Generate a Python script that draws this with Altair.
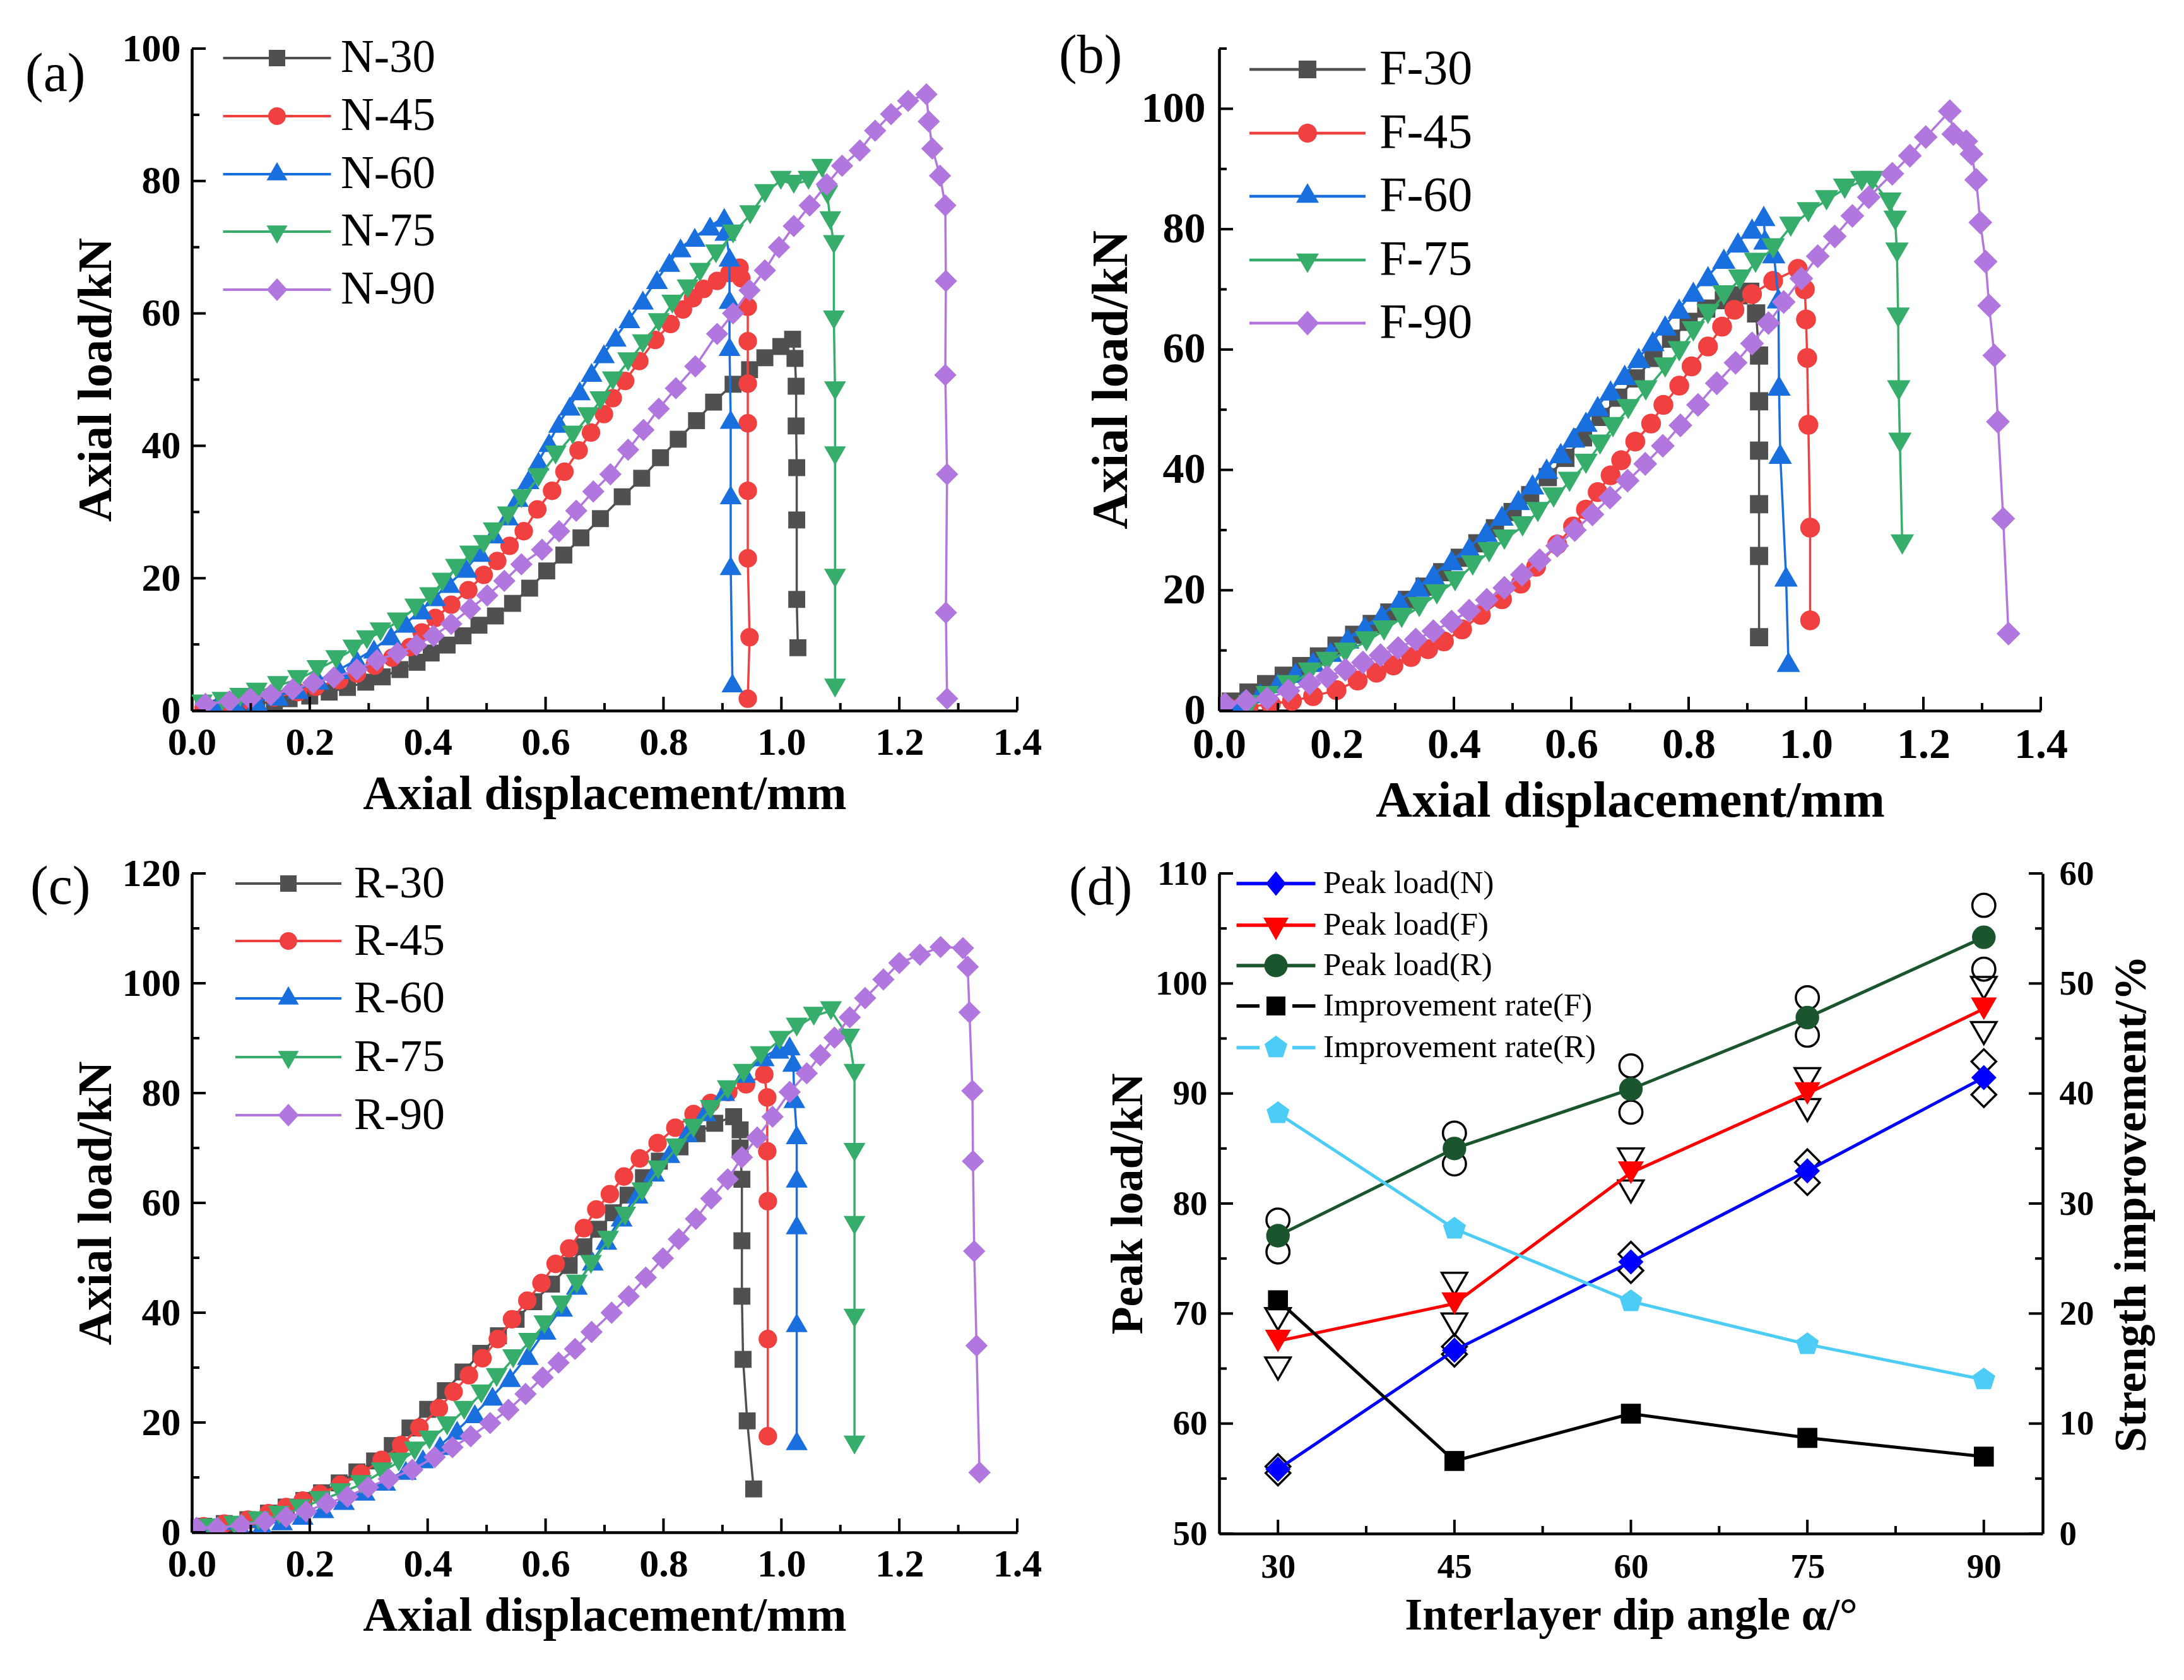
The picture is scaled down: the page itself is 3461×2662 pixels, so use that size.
import math
import altair as alt
import pandas as pd

FONT = "Liberation Serif"

# ---------------- shared styling for panels (a)-(c) ----------------
ANGLE_TAGS = ["30", "45", "60", "75", "90"]
CURVE_COLORS = ["#505050", "#F14040", "#1A6FDF", "#37AD6B", "#B177DE"]
CURVE_SHAPES = ["square", "circle", "triangle-up", "triangle-down", "diamond"]

X_MAJOR = [0.0, 0.2, 0.4, 0.6, 0.8, 1.0, 1.2, 1.4]
X_MINOR = [0.1, 0.3, 0.5, 0.7, 0.9, 1.1, 1.3]

# ---------------- panel (a): N specimens ----------------
N30_X = [0.02, 0.05, 0.08, 0.11, 0.14, 0.165, 0.2, 0.233, 0.264, 0.295, 0.323, 0.353, 0.382, 0.406,
         0.433, 0.46, 0.487, 0.515, 0.544, 0.573, 0.602, 0.631, 0.66, 0.693, 0.73, 0.763, 0.795, 0.825,
         0.856, 0.885, 0.918, 0.946, 0.972, 0.999, 1.019, 1.023, 1.025, 1.025, 1.026, 1.026, 1.026, 1.028]
N30_Y = [0.3, 0.4, 0.6, 1.0, 1.4, 1.8, 2.2, 2.8, 3.5, 4.3, 5.1, 6.2, 7.3, 8.7, 9.9, 11.3, 12.9, 14.3,
         16.2, 18.5, 21.1, 23.5, 26.1, 29.0, 32.3, 35.1, 38.2, 41.0, 43.8, 46.6, 49.3, 51.5, 53.3, 55.0,
         56.1, 53.2, 49.0, 43.0, 36.7, 28.8, 16.8, 9.5]
N45_X = [0.02, 0.06, 0.1, 0.14, 0.18, 0.21, 0.25, 0.28, 0.31, 0.34, 0.37, 0.39, 0.413, 0.44, 0.469,
         0.495, 0.518, 0.539, 0.563, 0.586, 0.611, 0.632, 0.656, 0.677, 0.699, 0.714, 0.735, 0.759,
         0.786, 0.812, 0.833, 0.85, 0.868, 0.891, 0.912, 0.929, 0.932, 0.943, 0.943, 0.943, 0.943,
         0.943, 0.943, 0.946, 0.943]
N45_Y = [0.4, 0.8, 1.4, 2.0, 2.8, 3.6, 4.6, 5.6, 6.8, 8.0, 9.6, 11.8, 14.0, 16.0, 18.2, 20.5, 22.6,
         24.9, 27.1, 30.4, 33.2, 36.1, 39.3, 42.0, 44.8, 47.2, 49.8, 52.8, 56.0, 58.4, 60.6, 62.3,
         63.7, 64.9, 66.1, 66.9, 65.3, 61.0, 55.8, 49.4, 43.4, 33.2, 23.0, 11.1, 1.8]
N60_X = [0.04, 0.076, 0.11, 0.146, 0.18, 0.215, 0.25, 0.28, 0.309, 0.338, 0.363, 0.39, 0.413, 0.437,
         0.466, 0.489, 0.512, 0.536, 0.553, 0.571, 0.588, 0.606, 0.623, 0.641, 0.658, 0.678, 0.699,
         0.719, 0.742, 0.765, 0.789, 0.81, 0.829, 0.853, 0.879, 0.903, 0.905, 0.912, 0.912, 0.912,
         0.914, 0.914, 0.914, 0.917]
N60_Y = [0.5, 0.8, 1.4, 2.2, 3.2, 4.6, 6.2, 7.7, 9.3, 11.3, 13.2, 15.2, 17.2, 19.2, 21.5, 23.9, 26.7,
         29.4, 32.2, 34.9, 37.7, 40.5, 43.4, 46.0, 48.3, 51.1, 53.9, 56.4, 59.2, 62.0, 65.1, 67.7,
         69.9, 71.5, 73.2, 74.5, 72.4, 68.5, 62.1, 55.0, 44.0, 32.6, 21.9, 4.2]
N75_X = [0.017, 0.052, 0.082, 0.11, 0.146, 0.18, 0.213, 0.245, 0.274, 0.297, 0.32, 0.349, 0.379,
         0.404, 0.425, 0.448, 0.472, 0.495, 0.512, 0.536, 0.559, 0.588, 0.617, 0.646, 0.672, 0.693,
         0.714, 0.74, 0.765, 0.792, 0.815, 0.841, 0.862, 0.889, 0.918, 0.947, 0.972, 0.999, 1.021,
         1.046, 1.069, 1.078, 1.083, 1.089, 1.089, 1.091, 1.091, 1.091, 1.091]
N75_Y = [1.0, 1.4, 2.0, 2.8, 3.8, 4.7, 6.2, 7.7, 9.3, 10.7, 11.9, 13.4, 15.5, 17.2, 19.4, 21.5, 23.5,
         25.1, 27.0, 29.4, 32.0, 35.2, 38.6, 41.6, 44.4, 46.8, 49.8, 52.7, 55.4, 58.6, 61.4, 63.7,
         66.2, 69.0, 72.0, 74.9, 78.1, 80.1, 79.5, 80.1, 81.9, 77.9, 74.0, 70.4, 59.0, 48.3, 38.5,
         20.0, 3.4]
N90_X = [0.023, 0.064, 0.099, 0.134, 0.171, 0.206, 0.241, 0.28, 0.314, 0.349, 0.381, 0.41, 0.44,
         0.472, 0.501, 0.53, 0.559, 0.594, 0.623, 0.652, 0.681, 0.71, 0.74, 0.766, 0.792, 0.821,
         0.854, 0.891, 0.918, 0.946, 0.972, 0.996, 1.021, 1.048, 1.077, 1.103, 1.133, 1.159, 1.186,
         1.215, 1.246, 1.25, 1.256, 1.269, 1.278, 1.279, 1.278, 1.281, 1.279, 1.281]
N90_Y = [1.0, 1.4, 1.8, 2.4, 3.2, 4.2, 5.0, 6.2, 7.6, 8.7, 9.9, 11.3, 13.1, 15.4, 17.4, 19.6, 22.1,
         24.3, 27.1, 30.2, 33.1, 35.7, 39.4, 42.4, 45.6, 48.7, 52.0, 56.9, 60.0, 63.5, 66.5, 70.0,
         73.2, 76.3, 79.5, 82.3, 84.6, 87.6, 90.1, 92.1, 93.1, 89.0, 84.9, 80.8, 76.3, 64.9, 50.7,
         35.7, 14.8, 1.8]

# ---------------- panel (b): F specimens ----------------
F30_X = [0.02, 0.05, 0.08, 0.11, 0.14, 0.17, 0.2, 0.23, 0.26, 0.29, 0.32, 0.35, 0.38, 0.41, 0.44,
         0.47, 0.5, 0.53, 0.56, 0.59, 0.62, 0.65, 0.68, 0.71, 0.74, 0.77, 0.8, 0.83, 0.86, 0.885,
         0.905, 0.915, 0.92, 0.92, 0.92, 0.92, 0.92, 0.92]
F30_Y = [1.5, 3.0, 4.4, 5.8, 7.4, 9.0, 10.8, 12.6, 14.4, 16.3, 18.4, 20.6, 23.0, 25.4, 27.8, 30.3,
         33.0, 35.8, 38.8, 42.0, 45.4, 48.8, 52.0, 55.2, 58.6, 61.8, 64.6, 66.8, 68.2, 69.0, 69.6,
         66.0, 59.0, 51.4, 43.2, 34.3, 25.7, 12.2]
F45_X = [0.02, 0.05, 0.088, 0.124, 0.16, 0.2, 0.236, 0.268, 0.297, 0.327, 0.356, 0.383, 0.414,
         0.446, 0.482, 0.514, 0.54, 0.576, 0.603, 0.625, 0.645, 0.667, 0.685, 0.709, 0.736, 0.757,
         0.784, 0.805, 0.833, 0.857, 0.878, 0.908, 0.944, 0.986, 0.998, 1.0, 1.002, 1.004, 1.007, 1.007]
F45_Y = [0.3, 0.6, 1.1, 1.6, 2.4, 3.4, 5.0, 6.3, 7.5, 8.9, 10.2, 11.5, 13.5, 15.9, 18.5, 21.1, 23.9,
         27.6, 30.6, 33.4, 36.3, 39.1, 41.6, 44.7, 47.7, 50.8, 54.0, 57.2, 60.5, 63.8, 66.6, 69.2,
         71.4, 73.4, 70.0, 65.0, 58.6, 47.5, 30.4, 15.0]
F60_X = [0.016, 0.04, 0.07, 0.1, 0.13, 0.16, 0.19, 0.219, 0.248, 0.277, 0.307, 0.339, 0.365, 0.396,
         0.426, 0.455, 0.482, 0.51, 0.534, 0.558, 0.582, 0.604, 0.625, 0.645, 0.667, 0.691, 0.715,
         0.739, 0.76, 0.784, 0.808, 0.833, 0.86, 0.884, 0.908, 0.928, 0.93, 0.945, 0.953, 0.954,
         0.956, 0.966, 0.97]
F60_Y = [0.7, 1.6, 2.9, 4.6, 6.3, 8.1, 9.8, 12.0, 14.0, 15.9, 18.3, 20.6, 22.6, 25.0, 27.1, 29.7,
         32.4, 35.0, 37.6, 40.2, 42.8, 45.4, 48.0, 50.6, 53.2, 55.8, 58.6, 61.4, 64.0, 66.8, 69.6,
         72.2, 75.1, 77.8, 80.1, 82.2, 78.3, 76.0, 68.5, 54.0, 42.7, 22.3, 8.1]
F75_X = [0.052, 0.082, 0.118, 0.154, 0.184, 0.215, 0.251, 0.281, 0.311, 0.341, 0.371, 0.402, 0.432,
         0.46, 0.486, 0.517, 0.543, 0.57, 0.597, 0.625, 0.649, 0.671, 0.697, 0.727, 0.76, 0.784,
         0.808, 0.833, 0.86, 0.887, 0.914, 0.944, 0.974, 1.004, 1.035, 1.066, 1.095, 1.113, 1.143,
         1.152, 1.155, 1.157, 1.158, 1.16, 1.164]
F75_Y = [0.9, 2.4, 4.2, 6.3, 8.1, 9.6, 11.5, 13.3, 15.4, 17.2, 19.3, 21.5, 24.1, 26.3, 28.4, 30.6,
         33.0, 35.4, 38.0, 41.0, 44.2, 47.1, 50.1, 53.2, 57.0, 59.7, 63.0, 65.9, 69.0, 71.6, 74.4,
         76.8, 80.4, 82.8, 84.8, 86.7, 88.0, 88.0, 84.4, 81.4, 76.1, 65.3, 53.2, 44.5, 27.6]
F90_X = [0.01, 0.046, 0.082, 0.118, 0.154, 0.184, 0.215, 0.245, 0.275, 0.305, 0.335, 0.365, 0.396,
         0.426, 0.456, 0.486, 0.516, 0.546, 0.576, 0.606, 0.636, 0.666, 0.696, 0.726, 0.756, 0.786,
         0.816, 0.848, 0.88, 0.908, 0.936, 0.962, 0.992, 1.02, 1.049, 1.079, 1.107, 1.147, 1.177,
         1.204, 1.245, 1.251, 1.273, 1.282, 1.29, 1.297, 1.306, 1.312, 1.321, 1.327, 1.336, 1.345]
F90_Y = [1.1, 1.6, 2.0, 3.3, 4.5, 5.6, 6.8, 8.0, 9.2, 10.4, 11.8, 13.2, 14.8, 16.6, 18.4, 20.4, 22.6,
         25.0, 27.4, 30.0, 32.6, 35.4, 38.2, 41.0, 44.0, 47.4, 50.8, 54.4, 57.8, 61.0, 64.4, 67.9,
         71.8, 75.5, 78.8, 82.2, 85.3, 89.2, 92.2, 95.3, 99.6, 95.8, 94.6, 92.5, 88.2, 81.1, 74.6,
         67.3, 59.0, 48.0, 31.9, 12.8]

# ---------------- panel (c): R specimens ----------------
R30_X = [0.02, 0.055, 0.095, 0.13, 0.16, 0.19, 0.22, 0.25, 0.28, 0.31, 0.34, 0.37, 0.4, 0.43, 0.46,
         0.49, 0.52, 0.55, 0.58, 0.61, 0.64, 0.665, 0.69, 0.715, 0.74, 0.766, 0.793, 0.828, 0.857,
         0.887, 0.919, 0.93, 0.93, 0.933, 0.933, 0.933, 0.935, 0.942, 0.953]
R30_Y = [1.1, 1.6, 2.3, 3.5, 4.6, 5.8, 7.2, 9.0, 11.0, 13.0, 15.8, 19.0, 22.4, 25.8, 29.2, 32.6,
         35.8, 38.8, 42.0, 45.2, 48.6, 52.0, 55.2, 58.2, 61.4, 64.6, 67.6, 70.2, 72.6, 74.5, 75.7,
         73.3, 70.0, 64.3, 53.1, 43.0, 31.5, 20.3, 7.9]
R45_X = [0.02, 0.055, 0.095, 0.13, 0.16, 0.188, 0.217, 0.252, 0.287, 0.322, 0.355, 0.386, 0.419,
         0.444, 0.47, 0.493, 0.519, 0.543, 0.569, 0.593, 0.617, 0.64, 0.665, 0.686, 0.709, 0.733,
         0.76, 0.79, 0.82, 0.851, 0.88, 0.91, 0.94, 0.971, 0.976, 0.976, 0.977, 0.977, 0.977]
R45_Y = [1.1, 1.6, 2.3, 3.5, 4.6, 5.8, 7.0, 8.7, 10.7, 13.2, 15.9, 19.1, 22.6, 25.6, 28.6, 31.7,
         35.2, 38.8, 42.2, 45.4, 48.9, 51.7, 55.4, 58.8, 61.6, 64.8, 68.1, 70.9, 73.7, 76.2, 78.2,
         80.2, 81.6, 83.4, 79.2, 69.4, 60.3, 35.2, 17.5]
R60_X = [0.014, 0.043, 0.084, 0.119, 0.153, 0.188, 0.223, 0.258, 0.293, 0.328, 0.363, 0.392, 0.421,
         0.45, 0.48, 0.51, 0.54, 0.57, 0.6, 0.628, 0.653, 0.68, 0.703, 0.729, 0.756, 0.784, 0.81,
         0.84, 0.871, 0.903, 0.938, 0.97, 0.995, 1.014, 1.02, 1.022, 1.026, 1.026, 1.026, 1.026, 1.026]
R60_Y = [0.3, 0.5, 0.8, 1.3, 2.1, 3.1, 4.3, 5.8, 7.5, 9.3, 11.3, 13.4, 15.8, 18.6, 21.6, 24.8, 28.2,
         32.2, 36.8, 41.0, 45.0, 49.4, 53.2, 57.4, 61.6, 65.6, 69.0, 72.8, 76.6, 80.3, 83.6, 86.6,
         88.0, 88.6, 85.6, 79.0, 72.4, 64.5, 56.0, 38.2, 16.7]
R75_X = [0.031, 0.072, 0.113, 0.148, 0.183, 0.217, 0.252, 0.287, 0.322, 0.351, 0.378, 0.403, 0.433,
         0.462, 0.491, 0.517, 0.545, 0.572, 0.598, 0.627, 0.653, 0.677, 0.706, 0.735, 0.764, 0.791,
         0.822, 0.851, 0.88, 0.909, 0.936, 0.965, 0.997, 1.026, 1.055, 1.084, 1.115, 1.124, 1.124,
         1.124, 1.124, 1.124]
R75_Y = [0.8, 1.3, 2.1, 3.1, 4.3, 5.8, 7.2, 8.7, 11.0, 12.8, 14.8, 16.8, 19.4, 22.2, 25.2, 28.2,
         31.6, 34.6, 37.8, 41.4, 45.2, 48.8, 53.2, 57.6, 62.0, 66.0, 70.0, 73.6, 77.0, 80.6, 83.6,
         86.8, 89.6, 92.0, 94.0, 95.0, 90.0, 83.6, 69.2, 55.9, 39.0, 15.9]
R90_X = [0.008, 0.043, 0.084, 0.124, 0.16, 0.194, 0.229, 0.264, 0.299, 0.334, 0.374, 0.412, 0.442,
         0.473, 0.506, 0.537, 0.566, 0.595, 0.622, 0.65, 0.678, 0.712, 0.741, 0.77, 0.799, 0.826,
         0.855, 0.881, 0.909, 0.933, 0.959, 0.985, 1.014, 1.043, 1.066, 1.09, 1.116, 1.142, 1.173,
         1.2, 1.235, 1.27, 1.308, 1.316, 1.319, 1.324, 1.325, 1.327, 1.331, 1.336]
R90_Y = [0.8, 0.8, 1.3, 2.0, 2.8, 3.8, 5.3, 6.5, 8.2, 9.7, 11.4, 13.7, 15.5, 17.5, 19.9, 22.3, 25.2,
         28.2, 30.9, 33.4, 36.5, 40.0, 43.0, 46.4, 49.9, 53.4, 57.1, 60.8, 64.3, 68.3, 71.9, 75.7,
         80.2, 83.6, 86.9, 90.1, 93.8, 97.3, 100.7, 103.7, 105.2, 106.6, 106.4, 103.0, 94.7, 80.4,
         67.6, 51.2, 34.0, 10.9]

# ---------------- panel (d): peak load and improvement ----------------
ANGLES = [30, 45, 60, 75, 90]
PEAK_N = [55.85, 66.66, 74.7, 82.97, 91.45]
PEAK_F = [67.5, 70.9, 82.8, 90.0, 97.7]
PEAK_R = [77.07, 85.0, 90.4, 96.9, 104.2]
RATE_F = [21.2, 6.6, 10.9, 8.7, 7.0]
RATE_R = [38.2, 27.7, 21.1, 17.2, 14.0]
N_SAMPLE_HI = [56.1, 67.0, 75.4, 83.8, 92.9]
N_SAMPLE_LO = [55.5, 66.3, 73.9, 81.9, 89.9]
F_SAMPLE_HI = [69.5, 72.7, 84.0, 91.3, 99.6]
F_SAMPLE_LO = [65.0, 69.0, 81.1, 88.5, 95.5]
R_SAMPLE_HI = [78.5, 86.4, 92.5, 98.7, 107.1]
R_SAMPLE_LO = [75.6, 83.6, 88.3, 95.3, 101.3]
D_NAMES = ["Peak load(N)", "Peak load(F)", "Peak load(R)", "Improvement rate(F)", "Improvement rate(R)"]
D_COLORS = ["#0000FF", "#FF0000", "#1A552D", "#000000", "#4DCCF6"]

PENTAGON = "M0,-1L0.951,-0.309L0.588,0.809L-0.588,0.809L-0.951,-0.309Z"


# ---------------- legend symbol paths (line + marker) ----------------
def u(v):
    return f"{v / 10:.3f}"


def rect(x0, y0, x1, y1):
    return f"M{u(x0)} {u(y0)}H{u(x1)}V{u(y1)}H{u(x0)}Z"


def poly(points):
    return "M" + "L".join(f"{u(x)} {u(y)}" for x, y in points) + "Z"


def marker_path(kind, dm):
    if kind == "square":
        s = dm["sq"]
        return rect(-s, -s, s, s)
    if kind == "circle":
        r = dm["ci"]
        return f"M{u(r)} 0A{u(r)} {u(r)} 0 1 1 {u(-r)} 0A{u(r)} {u(r)} 0 1 1 {u(r)} 0Z"
    if kind == "triangle-up":
        w, h = dm["tw"], dm["th"]
        return poly([(0, -2 * h / 3), (w / 2, h / 3), (-w / 2, h / 3)])
    if kind == "triangle-down":
        w, h = dm["tw"], dm["th"]
        return poly([(0, 2 * h / 3), (-w / 2, -h / 3), (w / 2, -h / 3)])
    if kind == "diamond":
        w, h = dm["dw"], dm["dh"]
        return poly([(0, -h / 2), (w / 2, 0), (0, h / 2), (-w / 2, 0)])
    r = dm["pr"]
    return poly([(r * math.cos(math.radians(-90 + 72 * k)), r * math.sin(math.radians(-90 + 72 * k)))
                 for k in range(5)])


def legend_symbol(kind, dm, half, thick, gap=0.0):
    if gap:
        line = rect(-half, -thick, -gap, thick) + rect(gap, -thick, half, thick)
    else:
        line = rect(-half, -thick, half, thick)
    return line + marker_path(kind, dm)


def make_legend(path, color, cx, cy, fs, dist):
    # the legend entry box is fs tall/wide, its symbol sits at its centre
    return alt.Legend(title=None, orient="none", legendX=cx - fs / 2, legendY=cy - fs / 2,
                      symbolType=path, symbolSize=400, symbolFillColor=color,
                      symbolStrokeColor=color, symbolStrokeWidth=0, symbolOpacity=1,
                      labelFont=FONT, labelFontSize=fs, labelColor="black",
                      labelOffset=dist - fs / 2, labelLimit=3000, padding=0)


def make_axis(values, fmt, label_fs, title, title_fs, label_pad, title_pad, orient=None,
              title_angle=None, title_x=None):
    kw = dict(values=values, format=fmt, title=title, grid=False, ticks=False, tickSize=0,
              domainColor="black", domainWidth=4.5, labelFont=FONT, labelFontSize=label_fs,
              labelFontWeight="bold", labelColor="black", labelPadding=label_pad, labelFlush=False,
              labelOverlap=False, titleFont=FONT, titleFontSize=title_fs, titleFontWeight="bold",
              titleColor="black", titlePadding=title_pad)
    if orient:
        kw["orient"] = orient
    if title_angle is not None:
        kw["titleAngle"] = title_angle
    if title_x is not None:
        kw["titleX"] = title_x
        kw["titleBaseline"] = "middle"
    return alt.Axis(**kw)


def series(name, xs, ys, color, shape, size, xenc, yenc, legend, width, clip):
    df = pd.DataFrame({"x": xs, "y": ys, "i": list(range(len(xs))), "s": [name] * len(xs)})
    base = alt.Chart(df)
    line = base.mark_line(color=color, strokeWidth=width, clip=clip).encode(x=xenc, y=yenc, order="i:Q")
    pts = base.mark_point(shape=shape, size=size, filled=True, opacity=1, clip=clip).encode(
        x=xenc, y=yenc,
        color=alt.Color("s:N", scale=alt.Scale(domain=[name], range=[color]), legend=legend))
    return alt.layer(line, pts)


def ticks_x(values, length, xenc, h):
    df = pd.DataFrame({"x": values})
    return alt.Chart(df).mark_rule(color="black", strokeWidth=4).encode(
        x=xenc, y=alt.value(h), y2=alt.value(h - length))


def ticks_y(values, length, yenc, x0, inward):
    df = pd.DataFrame({"y": values})
    return alt.Chart(df).mark_rule(color="black", strokeWidth=4).encode(
        y=yenc, x=alt.value(x0), x2=alt.value(x0 + inward * length))


def panel_label(text, dx, dy):
    return alt.Chart(pd.DataFrame({"t": [text]})).mark_text(
        align="left", baseline="middle", font=FONT, fontSize=86, color="black").encode(
        text="t:N", x=alt.value(dx), y=alt.value(dy))


tag_label = {"N": "a", "F": "b", "R": "c"}


def curve_panel(tag, xs_list, ys_list, width, height, y_max, y_major, y_minor, fonts, pads,
                leg, dims, sizes, label_xy):
    tick_fs, title_fs = fonts
    lpx, tpx, lpy, tpy = pads
    xenc = alt.X("x:Q", scale=alt.Scale(domain=[0, 1.4], nice=False),
                 axis=make_axis(X_MAJOR, ".1f", tick_fs, "Axial displacement/mm", title_fs, lpx, tpx))
    yenc = alt.Y("y:Q", scale=alt.Scale(domain=[0, y_max], nice=False),
                 axis=make_axis(y_major, "d", tick_fs, "Axial load/kN", title_fs, lpy, tpy))
    layers = []
    for k, (xs, ys) in enumerate(zip(xs_list, ys_list)):
        name = f"{tag}-{ANGLE_TAGS[k]}"
        shape = CURVE_SHAPES[k]
        path = legend_symbol(shape, dims, leg["half"], leg["thick"])
        lg = make_legend(path, CURVE_COLORS[k], leg["cx"], leg["cy"][k], leg["fs"], leg["dist"])
        layers.append(series(name, xs, ys, CURVE_COLORS[k], shape, sizes[shape], xenc, yenc, lg, 3.5, True))
    layers += [
        ticks_x(X_MAJOR, 22, xenc, height),
        ticks_x(X_MINOR, 12, xenc, height),
        ticks_y(y_major, 22, yenc, 0, 1),
        ticks_y(y_minor, 12, yenc, 0, 1),
        panel_label(f"({tag_label[tag]})", *label_xy),
    ]
    return alt.layer(*layers).resolve_scale(color="independent").properties(width=width, height=height)


DIMS_AC = {"sq": 13, "ci": 14, "tw": 33, "th": 29, "dw": 33, "dh": 36}
DIMS_B = {"sq": 14, "ci": 15, "tw": 36, "th": 31, "dw": 36, "dh": 39}
DIMS_D = {"sq": 15, "ci": 18.5, "tw": 40, "th": 36, "dw": 32, "dh": 39, "pr": 19}
SIZES_AC = {"square": 720, "circle": 860, "triangle-up": 1200, "triangle-down": 1200, "diamond": 1250}
SIZES_B = {"square": 830, "circle": 990, "triangle-up": 1380, "triangle-down": 1380, "diamond": 1430}
SIZES_D = {"square": 1000, "circle": 1400, "triangle-down": 1700, "diamond": 1600, PENTAGON: 1450}

panel_a = curve_panel(
    "N", [N30_X, N45_X, N60_X, N75_X, N90_X], [N30_Y, N45_Y, N60_Y, N75_Y, N90_Y],
    1308, 1049, 100, [0, 20, 40, 60, 80, 100], [10, 30, 50, 70, 90], (62, 76), (20, 14, 18, 2),
    dict(cx=135, cy=[15, 107, 199, 290, 382], fs=73, dist=101, half=85.5, thick=2),
    DIMS_AC, SIZES_AC, (-264, 41))

panel_b = curve_panel(
    "F", [F30_X, F45_X, F60_X, F75_X, F90_X], [F30_Y, F45_Y, F60_Y, F75_Y, F90_Y],
    1302, 1049, 110, [0, 20, 40, 60, 80, 100], [10, 30, 50, 70, 90, 110], (68, 80), (20, 16, 22, 6),
    dict(cx=140, cy=[33, 134, 234, 335, 435], fs=78, dist=114, half=92, thick=2.2),
    DIMS_B, SIZES_B, (-254, 12))

panel_c = curve_panel(
    "R", [R30_X, R45_X, R60_X, R75_X, R90_X], [R30_Y, R45_Y, R60_Y, R75_Y, R90_Y],
    1308, 1044, 120, [0, 20, 40, 60, 80, 100, 120], [10, 30, 50, 70, 90, 110], (62, 76), (20, 14, 18, 2),
    dict(cx=153, cy=[16, 107, 198, 291, 383], fs=72, dist=104, half=84, thick=2),
    DIMS_AC, SIZES_AC, (-256, 22))

# ---------------- panel (d) ----------------
D_W, D_H = 1305, 1046
D_LEG = dict(cx=90, cy=[16, 82, 146, 210, 276], fs=51, dist=75, half=62.5, thick=2.8)
d_x = alt.X("x:Q", scale=alt.Scale(domain=[25, 95], nice=False, zero=False),
            axis=make_axis(ANGLES, "d", 55, "Interlayer dip angle α/°", 72, 26, 14))
d_yl = alt.Y("y:Q", scale=alt.Scale(domain=[50, 110], nice=False, zero=False),
             axis=make_axis([50, 60, 70, 80, 90, 100, 110], "d", 55, "Peak load/kN", 72, 19, 6))
d_yr = alt.Y("y:Q", scale=alt.Scale(domain=[0, 60], nice=False),
             axis=make_axis([0, 10, 20, 30, 40, 50, 60], "d", 55, "Strength improvement/%", 72, 26, 6,
                            orient="right", title_angle=270, title_x=140))


def hollow(hi, lo, shape):
    df = pd.DataFrame({"x": ANGLES + ANGLES, "y": hi + lo})
    return alt.Chart(df).mark_point(shape=shape, size=SIZES_D[shape] * 0.95, filled=False,
                                    color="black", strokeWidth=3.5, opacity=1).encode(x=d_x, y=d_yl)


def d_series(k, values, shape, yenc, gap=0.0):
    kind = "pentagon" if shape == PENTAGON else shape
    path = legend_symbol(kind, DIMS_D, D_LEG["half"], D_LEG["thick"], gap)
    lg = make_legend(path, D_COLORS[k], D_LEG["cx"], D_LEG["cy"][k], D_LEG["fs"], D_LEG["dist"])
    return series(D_NAMES[k], ANGLES, values, D_COLORS[k], shape, SIZES_D[shape], d_x, yenc, lg, 5, False)


left_group = alt.layer(
    hollow(N_SAMPLE_HI, N_SAMPLE_LO, "diamond"),
    hollow(F_SAMPLE_HI, F_SAMPLE_LO, "triangle-down"),
    hollow(R_SAMPLE_HI, R_SAMPLE_LO, "circle"),
    d_series(0, PEAK_N, "diamond", d_yl),
    d_series(1, PEAK_F, "triangle-down", d_yl),
    d_series(2, PEAK_R, "circle", d_yl),
    ticks_x(ANGLES, 22, d_x, D_H),
    ticks_x([37.5, 52.5, 67.5, 82.5], 12, d_x, D_H),
    ticks_y([50, 60, 70, 80, 90, 100, 110], 22, d_yl, 0, 1),
    ticks_y([55, 65, 75, 85, 95, 105], 12, d_yl, 0, 1),
    panel_label("(d)", -238, 23),
).resolve_scale(color="independent")

right_group = alt.layer(
    d_series(3, RATE_F, "square", d_yr, gap=26),
    d_series(4, RATE_R, PENTAGON, d_yr, gap=26),
    ticks_y([0, 10, 20, 30, 40, 50, 60], 22, d_yr, D_W, -1),
    ticks_y([5, 15, 25, 35, 45, 55], 12, d_yr, D_W, -1),
).resolve_scale(color="independent")

panel_d = alt.layer(left_group, right_group).resolve_scale(
    y="independent", color="independent").properties(width=D_W, height=D_H)

chart = alt.concat(
    panel_a, panel_b, panel_c, panel_d, columns=2, bounds="flush",
    spacing={"row": 258, "column": 320},
).properties(
    padding={"left": 32, "top": 38, "right": 20, "bottom": 20}, background="white"
).configure_view(strokeWidth=0)

chart.save("out.html", embed_options={"renderer": "svg", "actions": False})
